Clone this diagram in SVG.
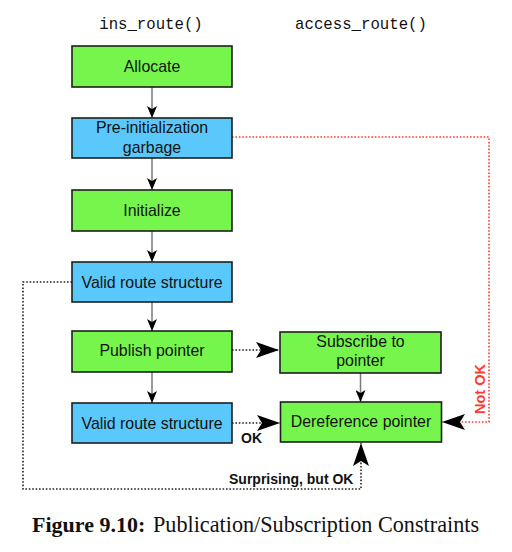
<svg xmlns="http://www.w3.org/2000/svg" width="512" height="552" viewBox="0 0 512 552">
<style>
.box{stroke:#1e1e1e;stroke-width:1.6}
.g{fill:#76f64c}
.b{fill:#5ac8fa}
.t{font-family:"Liberation Sans",Arial,sans-serif;font-size:15.9px;fill:#111;text-anchor:middle}
.m{font-family:"Liberation Mono","Courier New",monospace;font-size:15.7px;fill:#111;text-anchor:middle}
.lb{font-family:"Liberation Sans",Arial,sans-serif;font-size:14px;font-weight:bold;fill:#111}
.solid{fill:none;stroke:#7a7a7a;stroke-width:1.5}
.dot{fill:none;stroke:#222;stroke-width:1.6;stroke-dasharray:1.6 1.8}
.red{fill:none;stroke:#ff3b30;stroke-width:1.6;stroke-dasharray:1.6 1.8}
</style>
<defs>
<marker id="sm" viewBox="0 0 12 10" refX="12" refY="5" markerWidth="12" markerHeight="10" markerUnits="userSpaceOnUse" orient="auto">
<path d="M0,0 L12,5 L0,10 L3,5 z" fill="#000"/>
</marker>
<marker id="big" viewBox="0 0 23 16" refX="23" refY="8" markerWidth="23" markerHeight="16" markerUnits="userSpaceOnUse" orient="auto">
<path d="M0,0 L23,8 L0,16 L5,8 z" fill="#000"/>
</marker>
</defs>
<rect width="512" height="552" fill="#fff"/>
<text class="m" x="151" y="29">ins_route()</text>
<text class="m" x="361" y="29">access_route()</text>

<g id="connectors">
<path class="solid" d="M152,87 V118" marker-end="url(#sm)"/>
<path class="solid" d="M152,158 V190" marker-end="url(#sm)"/>
<path class="solid" d="M152,231 V262" marker-end="url(#sm)"/>
<path class="solid" d="M152,302 V331" marker-end="url(#sm)"/>
<path class="solid" d="M152,372 V403" marker-end="url(#sm)"/>
<path class="solid" d="M360.5,373 V402" marker-end="url(#sm)"/>
<path class="dot" d="M232,350 H279" marker-end="url(#big)"/>
<path class="dot" d="M232,423 H280" marker-end="url(#big)"/>
<path class="dot" d="M72,282 H23 V489 H361 V443" marker-end="url(#big)"/>
<path class="red" d="M232,137 H489 V422 H442" marker-end="url(#big)"/>
<text class="lb" x="241" y="443">OK</text>
<text class="lb" x="229" y="484">Surprising, but OK</text>
<text class="lb" x="0" y="0" transform="translate(485,389) rotate(-90)" text-anchor="middle" style="fill:#ff3b30;font-size:14.5px">Not OK</text>
</g>

<g id="allocate">
<rect class="box g" x="72" y="46" width="160" height="41"/>
<text class="t" x="152" y="72">Allocate</text>
</g>
<g id="preinit">
<rect class="box b" x="72" y="118" width="160" height="40"/>
<text class="t" x="152" y="133">Pre-initialization</text>
<text class="t" x="152" y="152.5">garbage</text>
</g>
<g id="initialize">
<rect class="box g" x="72" y="190" width="160" height="41"/>
<text class="t" x="152" y="216">Initialize</text>
</g>
<g id="valid1">
<rect class="box b" x="72" y="262" width="160" height="40"/>
<text class="t" x="152" y="287.5">Valid route structure</text>
</g>
<g id="publish">
<rect class="box g" x="72" y="331" width="160" height="41"/>
<text class="t" x="152" y="356">Publish pointer</text>
</g>
<g id="valid2">
<rect class="box b" x="72" y="403" width="160" height="40"/>
<text class="t" x="152" y="429">Valid route structure</text>
</g>
<g id="subscribe">
<rect class="box g" x="280" y="332" width="161" height="41"/>
<text class="t" x="360.5" y="347">Subscribe to</text>
<text class="t" x="360.5" y="366">pointer</text>
</g>
<g id="deref">
<rect class="box g" x="280.5" y="402" width="161" height="40"/>
<text class="t" x="361" y="427">Dereference pointer</text>
</g>

<text x="32" y="532" style="font-family:'Liberation Serif','Times New Roman',serif;font-size:22px;font-weight:bold;fill:#111">Figure 9.10:</text>
<text x="153" y="532" style="font-family:'Liberation Serif','Times New Roman',serif;font-size:22.2px;fill:#111">Publication/Subscription Constraints</text>
</svg>
